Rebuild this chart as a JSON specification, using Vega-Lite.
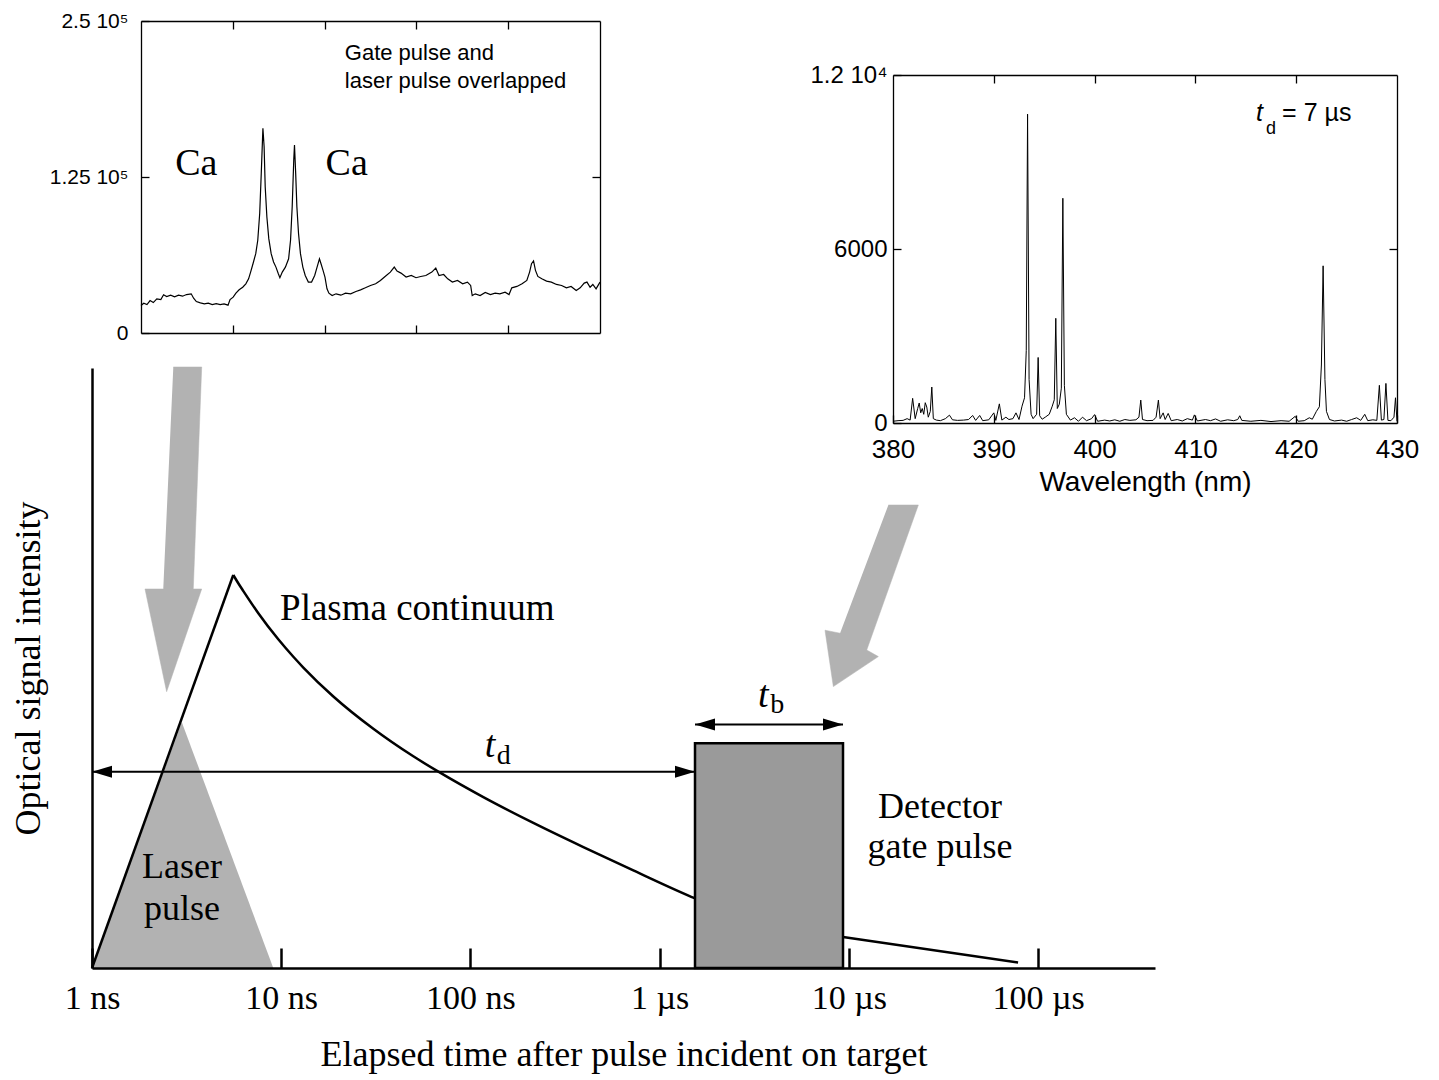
{
"$schema":"https://vega.github.io/schema/vega-lite/v6.json",
"width":1439,"height":1080,"autosize":{"type":"none"},"padding":0,"background":"white",
"config":{"view":{"stroke":null},"axis":{"grid":false,"domainColor":"black","tickColor":"black","labelColor":"black","titleColor":"black","titleFontWeight":"normal","labelFlush":false,"labelOverlap":false}},
"datasets":{
"arrows":[
{"arrow":"L","i":0,"t":2.69,"v":100.17},{"arrow":"L","i":1,"t":3.80,"v":100.17},{"arrow":"L","i":2,"t":3.43,"v":63.17},{"arrow":"L","i":3,"t":3.80,"v":63.17},{"arrow":"L","i":4,"t":2.48,"v":46.05},{"arrow":"L","i":5,"t":1.906,"v":63.17},{"arrow":"L","i":6,"t":2.38,"v":63.17},
{"arrow":"R","i":0,"t":16180,"v":77.17},{"arrow":"R","i":1,"t":23300,"v":77.17},{"arrow":"R","i":2,"t":12430,"v":53.0},{"arrow":"R","i":3,"t":14320,"v":51.9},{"arrow":"R","i":4,"t":8280,"v":46.9},{"arrow":"R","i":5,"t":7480,"v":56.3},{"arrow":"R","i":6,"t":8985,"v":55.8}
],
"laser":[{"t":1,"v":0},{"t":2.98,"v":41.0},{"t":9.08,"v":0}],
"rise":[{"t":1,"v":0},{"t":5.58,"v":65.5}],
"decay":[{"t":5.58,"v":65.5},{"t":5.93,"v":64.13},{"t":6.31,"v":62.82},{"t":7.57,"v":59.13},{"t":9.65,"v":54.78},{"t":11.59,"v":51.87},{"t":13.09,"v":50.08},{"t":18.86,"v":45.25},{"t":30.68,"v":39.87},{"t":49.9,"v":35.28},{"t":67.7,"v":32.72},{"t":117.0,"v":28.48},{"t":215.0,"v":24.18},{"t":395.2,"v":20.15},{"t":726.1,"v":16.27},{"t":1544,"v":11.6},{"t":3833,"v":7.0},{"t":9314,"v":5.17}],
"tail":[{"t":9314,"v":5.17},{"t":78400,"v":0.9}],
"box":[{"t0":1538,"t1":9314,"v0":0,"v1":37.45}],
"dims":[{"name":"td","t0":1,"t1":1538,"v":32.72},{"name":"tb","t0":1538,"t1":9314,"v":40.6}],
"notes":[{"text":"Laser","t":2.99,"v":15.0},{"text":"pulse","t":2.99,"v":8.0},{"text":"Detector","t":30340,"v":25.0},{"text":"gate pulse","t":30340,"v":18.3}],
"noteLeft":[{"text":"Plasma continuum","t":9.86,"v":58.0}],
"symT":[{"text":"t","t":127,"v":35.2},{"text":"t","t":3530,"v":43.5}],
"symSub":[{"text":"d","t":150,"v":34.0},{"text":"b","t":4180,"v":42.5}],
"spec1":[{"x":0.000,"y":22000},{"x":0.030,"y":23900},{"x":0.065,"y":22800},{"x":0.099,"y":26000},{"x":0.134,"y":24400},{"x":0.172,"y":27400},{"x":0.216,"y":26800},{"x":0.246,"y":30600},{"x":0.280,"y":29200},{"x":0.323,"y":30300},{"x":0.366,"y":29000},{"x":0.409,"y":30300},{"x":0.453,"y":29500},{"x":0.496,"y":30800},{"x":0.547,"y":31400},{"x":0.573,"y":27900},{"x":0.603,"y":25200},{"x":0.647,"y":24100},{"x":0.690,"y":23300},{"x":0.733,"y":23900},{"x":0.776,"y":22800},{"x":0.819,"y":23600},{"x":0.862,"y":22800},{"x":0.905,"y":23300},{"x":0.948,"y":22300},{"x":0.970,"y":26800},{"x":1.004,"y":28700},{"x":1.034,"y":31900},{"x":1.069,"y":34600},{"x":1.108,"y":36700},{"x":1.142,"y":39400},{"x":1.172,"y":43400},{"x":1.194,"y":48800},{"x":1.220,"y":55500},{"x":1.250,"y":63600},{"x":1.272,"y":74300},{"x":1.293,"y":95700},{"x":1.310,"y":127900},{"x":1.328,"y":164100},{"x":1.341,"y":149400},{"x":1.353,"y":117200},{"x":1.371,"y":93100},{"x":1.392,"y":75600},{"x":1.418,"y":63600},{"x":1.444,"y":56900},{"x":1.470,"y":52800},{"x":1.496,"y":47500},{"x":1.513,"y":44300},{"x":1.539,"y":48800},{"x":1.573,"y":52800},{"x":1.608,"y":59500},{"x":1.629,"y":74300},{"x":1.647,"y":101100},{"x":1.664,"y":138700},{"x":1.672,"y":150700},{"x":1.685,"y":127900},{"x":1.698,"y":101100},{"x":1.716,"y":79700},{"x":1.737,"y":63600},{"x":1.763,"y":52800},{"x":1.789,"y":46100},{"x":1.823,"y":40800},{"x":1.858,"y":40800},{"x":1.892,"y":46100},{"x":1.918,"y":52800},{"x":1.944,"y":59500},{"x":1.961,"y":55500},{"x":1.983,"y":50200},{"x":2.004,"y":44800},{"x":2.026,"y":35400},{"x":2.047,"y":31900},{"x":2.082,"y":30000},{"x":2.125,"y":31400},{"x":2.177,"y":30300},{"x":2.228,"y":31900},{"x":2.284,"y":31400},{"x":2.341,"y":33300},{"x":2.392,"y":34600},{"x":2.444,"y":36200},{"x":2.500,"y":38100},{"x":2.556,"y":39400},{"x":2.608,"y":42100},{"x":2.659,"y":45300},{"x":2.716,"y":48800},{"x":2.759,"y":52800},{"x":2.789,"y":49600},{"x":2.832,"y":48000},{"x":2.888,"y":44800},{"x":2.944,"y":46100},{"x":2.996,"y":44300},{"x":3.047,"y":45300},{"x":3.103,"y":46100},{"x":3.168,"y":48800},{"x":3.211,"y":52000},{"x":3.246,"y":46100},{"x":3.297,"y":46900},{"x":3.341,"y":43400},{"x":3.392,"y":40800},{"x":3.448,"y":42100},{"x":3.504,"y":39400},{"x":3.556,"y":40800},{"x":3.591,"y":38100},{"x":3.608,"y":30000},{"x":3.642,"y":31400},{"x":3.694,"y":30000},{"x":3.750,"y":32500},{"x":3.806,"y":30800},{"x":3.858,"y":31900},{"x":3.909,"y":31400},{"x":3.966,"y":32700},{"x":4.009,"y":30800},{"x":4.039,"y":36200},{"x":4.095,"y":37300},{"x":4.151,"y":39400},{"x":4.203,"y":42100},{"x":4.233,"y":48800},{"x":4.254,"y":55500},{"x":4.276,"y":57700},{"x":4.297,"y":50200},{"x":4.323,"y":45300},{"x":4.366,"y":43400},{"x":4.418,"y":41600},{"x":4.470,"y":40800},{"x":4.526,"y":38900},{"x":4.582,"y":38100},{"x":4.634,"y":36200},{"x":4.685,"y":37300},{"x":4.741,"y":34100},{"x":4.784,"y":36200},{"x":4.828,"y":40000},{"x":4.858,"y":40800},{"x":4.892,"y":36700},{"x":4.922,"y":38900},{"x":4.957,"y":35400},{"x":5.000,"y":40800}],
"ca":[{"text":"Ca","x":0.603,"y":135400},{"text":"Ca","x":2.241,"y":135400}],
"note1":[{"text":"Gate pulse and","x":2.22,"y":224500},{"text":"laser pulse overlapped","x":2.22,"y":201700}],
"spec2":[{"w":380.0,"i":60},{"w":380.5,"i":80},{"w":381.0,"i":90},{"w":381.4,"i":150},{"w":381.7,"i":100},{"w":381.95,"i":850},{"w":382.2,"i":150},{"w":382.45,"i":500},{"w":382.6,"i":690},{"w":382.75,"i":350},{"w":382.9,"i":500},{"w":383.05,"i":300},{"w":383.2,"i":700},{"w":383.35,"i":550},{"w":383.5,"i":200},{"w":383.7,"i":400},{"w":383.85,"i":1240},{"w":384.0,"i":150},{"w":384.3,"i":100},{"w":384.7,"i":80},{"w":385.2,"i":150},{"w":385.6,"i":270},{"w":385.9,"i":110},{"w":386.4,"i":90},{"w":387.0,"i":100},{"w":387.5,"i":120},{"w":387.9,"i":260},{"w":388.2,"i":90},{"w":388.6,"i":260},{"w":388.9,"i":80},{"w":389.5,"i":110},{"w":390.0,"i":350},{"w":390.2,"i":90},{"w":390.55,"i":660},{"w":390.8,"i":100},{"w":391.2,"i":200},{"w":391.5,"i":120},{"w":391.9,"i":150},{"w":392.2,"i":350},{"w":392.5,"i":120},{"w":392.8,"i":580},{"w":393.05,"i":870},{"w":393.22,"i":2500},{"w":393.35,"i":10650},{"w":393.5,"i":1500},{"w":393.7,"i":300},{"w":393.9,"i":150},{"w":394.25,"i":300},{"w":394.4,"i":2260},{"w":394.55,"i":250},{"w":394.8,"i":130},{"w":395.1,"i":200},{"w":395.5,"i":300},{"w":395.8,"i":580},{"w":396.0,"i":800},{"w":396.15,"i":3610},{"w":396.3,"i":500},{"w":396.5,"i":650},{"w":396.7,"i":1200},{"w":396.85,"i":7750},{"w":397.0,"i":1300},{"w":397.2,"i":300},{"w":397.6,"i":100},{"w":398.0,"i":180},{"w":398.4,"i":60},{"w":398.8,"i":200},{"w":399.2,"i":80},{"w":399.7,"i":150},{"w":400.0,"i":290},{"w":400.3,"i":60},{"w":401.0,"i":100},{"w":401.5,"i":70},{"w":402.0,"i":110},{"w":402.5,"i":60},{"w":403.0,"i":120},{"w":403.5,"i":90},{"w":404.1,"i":110},{"w":404.4,"i":200},{"w":404.58,"i":790},{"w":404.75,"i":120},{"w":405.2,"i":80},{"w":405.8,"i":90},{"w":406.1,"i":200},{"w":406.33,"i":790},{"w":406.5,"i":150},{"w":406.8,"i":350},{"w":407.0,"i":120},{"w":407.3,"i":330},{"w":407.6,"i":80},{"w":408.2,"i":120},{"w":408.7,"i":70},{"w":409.2,"i":150},{"w":409.7,"i":100},{"w":409.9,"i":280},{"w":410.2,"i":70},{"w":411.0,"i":120},{"w":411.5,"i":80},{"w":412.0,"i":140},{"w":412.5,"i":60},{"w":413.2,"i":110},{"w":413.8,"i":80},{"w":414.2,"i":120},{"w":414.4,"i":250},{"w":414.6,"i":90},{"w":415.5,"i":60},{"w":416.5,"i":90},{"w":417.5,"i":50},{"w":418.5,"i":80},{"w":419.3,"i":60},{"w":419.9,"i":230},{"w":420.2,"i":60},{"w":420.8,"i":80},{"w":421.3,"i":180},{"w":421.6,"i":130},{"w":422.0,"i":400},{"w":422.3,"i":560},{"w":422.5,"i":2000},{"w":422.67,"i":5420},{"w":422.85,"i":1500},{"w":423.0,"i":400},{"w":423.3,"i":120},{"w":423.8,"i":70},{"w":424.5,"i":100},{"w":425.0,"i":60},{"w":425.5,"i":120},{"w":426.0,"i":180},{"w":426.4,"i":90},{"w":426.8,"i":300},{"w":427.1,"i":80},{"w":427.6,"i":110},{"w":428.0,"i":90},{"w":428.25,"i":1300},{"w":428.45,"i":100},{"w":428.7,"i":120},{"w":428.9,"i":1365},{"w":429.1,"i":90},{"w":429.4,"i":80},{"w":429.7,"i":200},{"w":429.85,"i":870},{"w":430.0,"i":60}],
"tdT":[{"text":"t","w":416.0,"i":10700}],
"tdSub":[{"text":"d","w":417.0,"i":10150}],
"tdRest":[{"text":"= 7 µs","w":418.6,"i":10700}]
},
"resolve":{"scale":{"x":"independent","y":"independent"},"axis":{"x":"independent","y":"independent"}},
"layer":[
{"resolve":{"axis":{"x":"independent","y":"independent"}},
 "layer":[
 {"data":{"name":"arrows"},"mark":{"type":"line","fill":"#b2b2b2","stroke":"#b2b2b2","strokeWidth":0.5},
  "encoding":{"x":{"field":"t","type":"quantitative","scale":{"type":"log","domain":[1,415000],"range":[92,1155],"nice":false},"axis":null},
   "y":{"field":"v","type":"quantitative","scale":{"domain":[0,100],"range":[968,368],"nice":false,"zero":false},"axis":null},
   "detail":{"field":"arrow"},"order":{"field":"i","type":"quantitative"}}},
 {"data":{"name":"laser"},"mark":{"type":"area","color":"#b2b2b2"},
  "encoding":{"x":{"field":"t","type":"quantitative","scale":{"type":"log","domain":[1,415000],"range":[92,1155],"nice":false},"axis":null},
   "y":{"field":"v","type":"quantitative","scale":{"domain":[0,100],"range":[968,368],"nice":false,"zero":false},"axis":null}}},
 {"data":{"name":"rise"},"mark":{"type":"line","color":"black","strokeWidth":2.5},
  "encoding":{"x":{"field":"t","type":"quantitative","scale":{"type":"log","domain":[1,415000],"range":[92,1155],"nice":false},
     "axis":{"orient":"bottom","offset":-112,"values":[1,10,100,1000,10000,100000],"labelExpr":"datum.value == 1 ? '1 ns' : datum.value == 10 ? '10 ns' : datum.value == 100 ? '100 ns' : datum.value == 1000 ? '1 µs' : datum.value == 10000 ? '10 µs' : '100 µs'","tickSize":-20,"tickWidth":2.5,"domainWidth":2.5,"labelFont":"Liberation Serif","labelFontSize":34,"labelPadding":33,"title":"Elapsed time after pulse incident on target","titleFont":"Liberation Serif","titleFontSize":36,"titlePadding":22,"zindex":1}},
   "y":{"field":"v","type":"quantitative","scale":{"domain":[0,100],"range":[968,368],"nice":false,"zero":false},
     "axis":{"orient":"left","offset":-92,"ticks":false,"labels":false,"domainWidth":2.5,"title":"Optical signal intensity","titleFont":"Liberation Serif","titleFontSize":36,"titlePadding":45,"zindex":1}}}},
 {"data":{"name":"decay"},"mark":{"type":"line","color":"black","strokeWidth":2.5,"interpolate":"monotone"},
  "encoding":{"x":{"field":"t","type":"quantitative","scale":{"type":"log","domain":[1,415000],"range":[92,1155],"nice":false},"axis":null},
   "y":{"field":"v","type":"quantitative","scale":{"domain":[0,100],"range":[968,368],"nice":false,"zero":false},"axis":null}}},
 {"data":{"name":"tail"},"mark":{"type":"line","color":"black","strokeWidth":2.5},
  "encoding":{"x":{"field":"t","type":"quantitative","scale":{"type":"log","domain":[1,415000],"range":[92,1155],"nice":false},"axis":null},
   "y":{"field":"v","type":"quantitative","scale":{"domain":[0,100],"range":[968,368],"nice":false,"zero":false},"axis":null}}},
 {"data":{"name":"box"},"mark":{"type":"rect","fill":"#9a9a9a","stroke":"black","strokeWidth":2.5},
  "encoding":{"x":{"field":"t0","type":"quantitative","scale":{"type":"log","domain":[1,415000],"range":[92,1155],"nice":false},"axis":null},"x2":{"field":"t1"},
   "y":{"field":"v0","type":"quantitative","scale":{"domain":[0,100],"range":[968,368],"nice":false,"zero":false},"axis":null},"y2":{"field":"v1"}}},
 {"data":{"name":"dims"},"mark":{"type":"rule","color":"black","strokeWidth":2},
  "encoding":{"x":{"field":"t0","type":"quantitative","scale":{"type":"log","domain":[1,415000],"range":[92,1155],"nice":false},"axis":null},"x2":{"field":"t1"},
   "y":{"field":"v","type":"quantitative","scale":{"domain":[0,100],"range":[968,368],"nice":false,"zero":false},"axis":null}}},
 {"data":{"name":"dims"},"mark":{"type":"point","shape":"M0,0L1,-0.3L1,0.3Z","size":1600,"filled":true,"color":"black","opacity":1,"strokeWidth":0},
  "encoding":{"x":{"field":"t0","type":"quantitative","scale":{"type":"log","domain":[1,415000],"range":[92,1155],"nice":false},"axis":null},
   "y":{"field":"v","type":"quantitative","scale":{"domain":[0,100],"range":[968,368],"nice":false,"zero":false},"axis":null}}},
 {"data":{"name":"dims"},"mark":{"type":"point","shape":"M0,0L-1,-0.3L-1,0.3Z","size":1600,"filled":true,"color":"black","opacity":1,"strokeWidth":0},
  "encoding":{"x":{"field":"t1","type":"quantitative","scale":{"type":"log","domain":[1,415000],"range":[92,1155],"nice":false},"axis":null},
   "y":{"field":"v","type":"quantitative","scale":{"domain":[0,100],"range":[968,368],"nice":false,"zero":false},"axis":null}}},
 {"data":{"name":"notes"},"mark":{"type":"text","font":"Liberation Serif","fontSize":36,"align":"center","baseline":"alphabetic","color":"black"},
  "encoding":{"x":{"field":"t","type":"quantitative","scale":{"type":"log","domain":[1,415000],"range":[92,1155],"nice":false},"axis":null},
   "y":{"field":"v","type":"quantitative","scale":{"domain":[0,100],"range":[968,368],"nice":false,"zero":false},"axis":null},"text":{"field":"text"}}},
 {"data":{"name":"noteLeft"},"mark":{"type":"text","font":"Liberation Serif","fontSize":37,"align":"left","baseline":"alphabetic","color":"black"},
  "encoding":{"x":{"field":"t","type":"quantitative","scale":{"type":"log","domain":[1,415000],"range":[92,1155],"nice":false},"axis":null},
   "y":{"field":"v","type":"quantitative","scale":{"domain":[0,100],"range":[968,368],"nice":false,"zero":false},"axis":null},"text":{"field":"text"}}},
 {"data":{"name":"symT"},"mark":{"type":"text","font":"Liberation Serif","fontSize":38,"fontStyle":"italic","align":"center","baseline":"alphabetic","color":"black"},
  "encoding":{"x":{"field":"t","type":"quantitative","scale":{"type":"log","domain":[1,415000],"range":[92,1155],"nice":false},"axis":null},
   "y":{"field":"v","type":"quantitative","scale":{"domain":[0,100],"range":[968,368],"nice":false,"zero":false},"axis":null},"text":{"field":"text"}}},
 {"data":{"name":"symSub"},"mark":{"type":"text","font":"Liberation Serif","fontSize":28,"align":"center","baseline":"alphabetic","color":"black"},
  "encoding":{"x":{"field":"t","type":"quantitative","scale":{"type":"log","domain":[1,415000],"range":[92,1155],"nice":false},"axis":null},
   "y":{"field":"v","type":"quantitative","scale":{"domain":[0,100],"range":[968,368],"nice":false,"zero":false},"axis":null},"text":{"field":"text"}}}
]},
{"resolve":{"axis":{"x":"independent","y":"independent"}},
 "layer":[
 {"data":{"name":"spec1"},"mark":{"type":"line","color":"black","strokeWidth":1.2},
  "encoding":{"x":{"field":"x","type":"quantitative","scale":{"domain":[0,5],"range":[141,600],"nice":false,"zero":false},
     "axis":{"orient":"bottom","offset":-747,"values":[1,2,3,4],"labels":false,"tickSize":-8,"tickWidth":1.3,"domainWidth":1.3,"title":null}},
   "y":{"field":"y","type":"quantitative","scale":{"domain":[0,250000],"range":[333,21],"nice":false,"zero":false},
     "axis":{"orient":"left","offset":-141,"values":[0,125000,250000],"labelExpr":"datum.value == 0 ? '0' : datum.value == 125000 ? '1.25 10⁵' : '2.5 10⁵'","tickSize":-8,"tickWidth":1.3,"domainWidth":1.3,"labelPadding":21,"labelFont":"Liberation Sans","labelFontSize":21,"title":null}}}},
 {"data":{"name":"ca"},"mark":{"type":"text","font":"Liberation Serif","fontSize":38,"align":"center","baseline":"middle","color":"black"},
  "encoding":{"x":{"field":"x","type":"quantitative","scale":{"domain":[0,5],"range":[141,600],"nice":false,"zero":false},
     "axis":{"orient":"top","offset":-21,"values":[1,2,3,4],"labels":false,"tickSize":-8,"tickWidth":1.3,"domainWidth":1.3,"title":null}},
   "y":{"field":"y","type":"quantitative","scale":{"domain":[0,250000],"range":[333,21],"nice":false,"zero":false},
     "axis":{"orient":"right","offset":-839,"values":[125000],"labels":false,"tickSize":-8,"tickWidth":1.3,"domainWidth":1.3,"title":null}},
   "text":{"field":"text"}}},
 {"data":{"name":"note1"},"mark":{"type":"text","font":"Liberation Sans","fontSize":22,"align":"left","baseline":"middle","color":"black"},
  "encoding":{"x":{"field":"x","type":"quantitative","scale":{"domain":[0,5],"range":[141,600],"nice":false,"zero":false},"axis":null},
   "y":{"field":"y","type":"quantitative","scale":{"domain":[0,250000],"range":[333,21],"nice":false,"zero":false},"axis":null},
   "text":{"field":"text"}}}
]},
{"resolve":{"axis":{"x":"independent","y":"independent"}},
 "layer":[
 {"data":{"name":"spec2"},"mark":{"type":"line","color":"black","strokeWidth":1},
  "encoding":{"x":{"field":"w","type":"quantitative","scale":{"domain":[380,430],"range":[893,1397],"nice":false,"zero":false},
     "axis":{"orient":"bottom","offset":-657,"values":[380,390,400,410,420,430],"format":"d","tickSize":-8,"tickWidth":1.3,"domainWidth":1.3,"labelPadding":21,"labelFont":"Liberation Sans","labelFontSize":26,"title":"Wavelength (nm)","titleFont":"Liberation Sans","titleFontSize":28,"titlePadding":6}},
   "y":{"field":"i","type":"quantitative","scale":{"domain":[0,12000],"range":[423,75],"nice":false,"zero":false},
     "axis":{"orient":"left","offset":-893,"values":[0,6000,12000],"labelExpr":"datum.value == 12000 ? '1.2 10⁴' : datum.value == 6000 ? '6000' : '0'","tickSize":-8,"tickWidth":1.3,"domainWidth":1.3,"labelPadding":14,"labelFont":"Liberation Sans","labelFontSize":24,"title":null}}}},
 {"data":{"name":"tdT"},"mark":{"type":"text","font":"Liberation Sans","fontSize":25,"fontStyle":"italic","align":"left","baseline":"middle","color":"black"},
  "encoding":{"x":{"field":"w","type":"quantitative","scale":{"domain":[380,430],"range":[893,1397],"nice":false,"zero":false},
     "axis":{"orient":"top","offset":-75,"values":[390,400,410,420],"labels":false,"tickSize":-8,"tickWidth":1.3,"domainWidth":1.3,"title":null}},
   "y":{"field":"i","type":"quantitative","scale":{"domain":[0,12000],"range":[423,75],"nice":false,"zero":false},
     "axis":{"orient":"right","offset":-42,"values":[6000],"labels":false,"tickSize":-8,"tickWidth":1.3,"domainWidth":1.3,"title":null}},
   "text":{"field":"text"}}},
 {"data":{"name":"tdSub"},"mark":{"type":"text","font":"Liberation Sans","fontSize":18,"align":"left","baseline":"middle","color":"black"},
  "encoding":{"x":{"field":"w","type":"quantitative","scale":{"domain":[380,430],"range":[893,1397],"nice":false,"zero":false},"axis":null},
   "y":{"field":"i","type":"quantitative","scale":{"domain":[0,12000],"range":[423,75],"nice":false,"zero":false},"axis":null},
   "text":{"field":"text"}}},
 {"data":{"name":"tdRest"},"mark":{"type":"text","font":"Liberation Sans","fontSize":25,"align":"left","baseline":"middle","color":"black"},
  "encoding":{"x":{"field":"w","type":"quantitative","scale":{"domain":[380,430],"range":[893,1397],"nice":false,"zero":false},"axis":null},
   "y":{"field":"i","type":"quantitative","scale":{"domain":[0,12000],"range":[423,75],"nice":false,"zero":false},"axis":null},
   "text":{"field":"text"}}}
]}
]
}
